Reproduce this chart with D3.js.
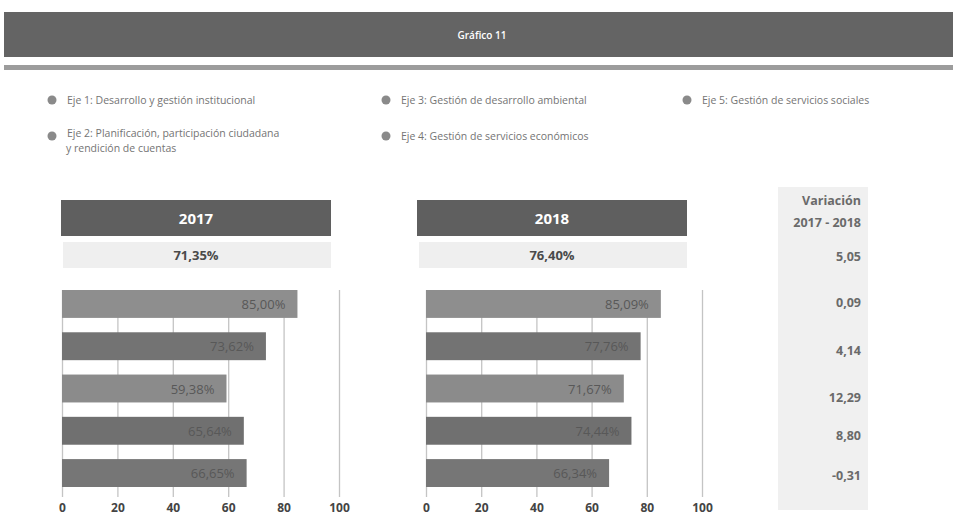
<!DOCTYPE html>
<html>
<head>
<meta charset="utf-8">
<script src="https://cdn.jsdelivr.net/npm/d3@7"></script>
<style>
  body { margin: 0; background: #fff; }
  svg { display: block; font-family: "Open Sans", sans-serif; }
</style>
</head>
<body>
<svg id="chart" width="953" height="517"></svg>
<script>
// data
var title = 'Gráfico 11';
var ejes = ['Eje 1: Desarrollo y gestión institucional',
            'Eje 2: Planificación, participación ciudadana|y rendición de cuentas',
            'Eje 3: Gestión de desarrollo ambiental',
            'Eje 4: Gestión de servicios económicos',
            'Eje 5: Gestión de servicios sociales'];
var years = ['2017', '2018'];
var totals = [71.35, 76.40];
var values2017 = [85.00, 73.62, 59.38, 65.64, 66.65];
var values2018 = [85.09, 77.76, 71.67, 74.44, 66.34];
var variacion = ['5,05', '0,09', '4,14', '12,29', '8,80', '-0,31'];
var ticks = [0, 20, 40, 60, 80, 100];
var barColors = ['#8e8e8e', '#737373', '#8b8b8b', '#707070', '#767676'];

var fmt = function(v){ return d3.format('.2f')(v).replace('.', ',') + '%'; };

var svg = d3.select('#chart');

// header band
svg.append('rect').attr('x', 4).attr('y', 12).attr('width', 949).attr('height', 45).attr('fill', '#646464');
svg.append('text').attr('x', 482).attr('y', 39).attr('text-anchor', 'middle')
  .attr('fill', '#fff').attr('font-size', 10).attr('font-weight', 600)
  .text(title);
svg.append('rect').attr('x', 4).attr('y', 65).attr('width', 949).attr('height', 5).attr('fill', '#9c9c9c');

// legend
var legendPos = [[52, 100], [52, 136], [386, 100], [386, 136], [687, 100]];
ejes.forEach(function(e, i){
  var p = legendPos[i];
  svg.append('circle').attr('cx', p[0]).attr('cy', p[1]).attr('r', 4.5).attr('fill', '#8a8a8a');
  var t = svg.append('text').attr('x', p[0] + 15).attr('y', p[1] + 4)
    .attr('fill', '#747474').attr('font-size', 10.5);
  e.split('|').forEach(function(line, j){
    t.append('tspan').attr('x', p[0] + (j ? 14 : 15)).attr('dy', j ? 15 : (i == 1 ? -3 : 0)).text(line);
  });
});

// one panel per year
var panels = [
  {x0: 62, x1: 339, hx: 61, values: values2017},
  {x0: 426, x1: 702, hx: 417, values: values2018}
];

panels.forEach(function(pn, k){
  var g = svg.append('g');
  // year header
  g.append('rect').attr('x', pn.hx).attr('y', 200).attr('width', 270).attr('height', 36).attr('fill', '#5f5f5f');
  g.append('text').attr('x', pn.hx + 135).attr('y', 224).attr('text-anchor', 'middle')
    .attr('fill', '#fff').attr('font-size', 15).attr('font-weight', 700).text(years[k]);
  g.append('rect').attr('x', pn.hx + 2).attr('y', 242).attr('width', 268).attr('height', 26).attr('fill', '#efefef');
  g.append('text').attr('x', pn.hx + 135).attr('y', 260).attr('text-anchor', 'middle')
    .attr('fill', '#4a4a4a').attr('font-size', 13).attr('font-weight', 700).text(fmt(totals[k]));

  var x = d3.scaleLinear().domain([0, 100]).range([pn.x0, pn.x1]);
  var y = d3.scaleBand().domain(d3.range(pn.values.length)).range([290, 487]).paddingInner(0.34).paddingOuter(0);

  // grid
  var axis = d3.axisBottom(x).tickValues(ticks).tickSize(-207).tickFormat(d3.format('d'));
  var gx = g.append('g').attr('transform', 'translate(0,497)').call(axis);
  gx.select('.domain').remove();
  gx.selectAll('line').attr('stroke', '#c4c4c4').attr('stroke-width', 1.3);
  gx.selectAll('text').attr('y', 6).attr('font-size', 12).attr('font-weight', 700)
    .attr('fill', '#444').attr('font-family', '"Open Sans", sans-serif');

  // bars
  g.selectAll('rect.bar').data(pn.values).enter().append('rect')
    .attr('class', 'bar')
    .attr('x', x(0)).attr('y', function(d, i){ return y(i); })
    .attr('width', function(d){ return x(d) - x(0); })
    .attr('height', y.bandwidth())
    .attr('fill', function(d, i){ return barColors[i]; });

  g.selectAll('text.lbl').data(pn.values).enter().append('text')
    .attr('class', 'lbl')
    .attr('x', function(d){ return x(d) - 12; })
    .attr('y', function(d, i){ return y(i) + y.bandwidth() / 2 + 5; })
    .attr('text-anchor', 'end').attr('font-size', 13).attr('fill', '#585858')
    .text(function(d){ return fmt(d); });
});

// variation column
svg.append('rect').attr('x', 778).attr('y', 187).attr('width', 90).attr('height', 323).attr('fill', '#f0f0f0');
svg.append('text').attr('x', 861).attr('y', 205).attr('text-anchor', 'end')
  .attr('fill', '#6a6a6a').attr('font-size', 12.5).attr('font-weight', 700).text('Variación');
svg.append('text').attr('x', 861).attr('y', 227).attr('text-anchor', 'end')
  .attr('fill', '#6a6a6a').attr('font-size', 12.5).attr('font-weight', 700).text('2017 - 2018');
var varY = [261, 307, 355, 402, 440, 480];
variacion.forEach(function(v, i){
  svg.append('text').attr('x', 861).attr('y', varY[i]).attr('text-anchor', 'end')
    .attr('fill', '#6a6a6a').attr('font-size', 12.5).attr('font-weight', 700).text(v);
});
</script>
</body>
</html>
